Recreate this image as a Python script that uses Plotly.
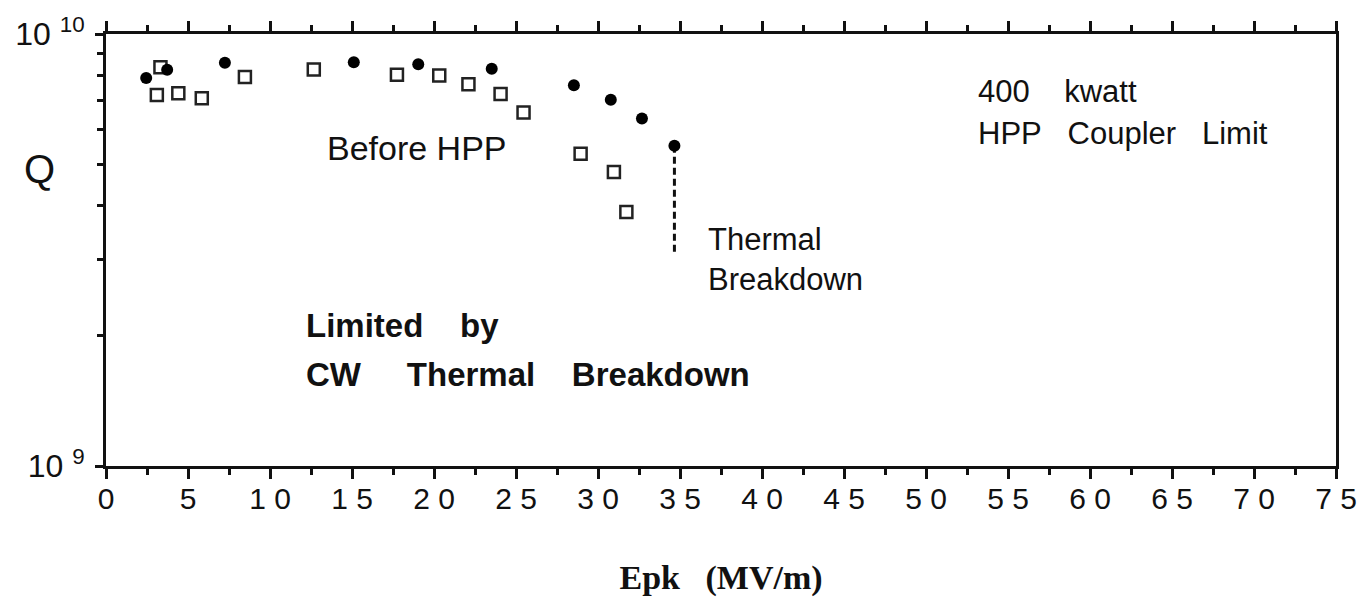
import plotly.graph_objects as go

# ---- data ----
after_epk = [2.45, 3.73, 7.25, 15.11, 19.04, 23.52, 28.53, 30.78, 32.68, 34.66]
after_q = [7.91e9, 8.27e9, 8.58e9, 8.60e9, 8.51e9, 8.31e9, 7.61e9, 7.04e9, 6.37e9, 5.51e9]

before_epk = [3.10, 3.32, 4.41, 5.84, 8.47, 12.67, 17.74, 20.32, 22.10, 24.06, 25.46, 28.94, 30.97, 31.73]
before_q = [7.22e9, 8.38e9, 7.29e9, 7.10e9, 7.95e9, 8.28e9, 8.05e9, 8.02e9, 7.65e9, 7.26e9, 6.58e9, 5.28e9, 4.79e9, 3.87e9]

breakdown_epk = [34.66, 34.66]
breakdown_q = [5.51e9, 3.09e9]

x_tick_vals = list(range(0, 80, 5))
x_tick_text = [" ".join(str(v)) for v in x_tick_vals]
y_tick_vals = [1e9, 1e10]
y_tick_text = ["10\u00a0<sup>9</sup>", "10\u00a0<sup>10</sup>"]
y_minor_vals = [2e9, 3e9, 4e9, 5e9, 6e9, 7e9, 8e9, 9e9]

SANS = "Liberation Sans, Arial, sans-serif"
SERIF = "Liberation Serif, Times New Roman, serif"
NB = "\u00a0"
INK = "#111"

fig = go.Figure()

fig.add_trace(go.Scatter(
    x=breakdown_epk, y=breakdown_q, mode="lines",
    line=dict(color=INK, width=3, dash="7px,4px"),
    showlegend=False, hoverinfo="skip"))

fig.add_trace(go.Scatter(
    x=before_epk, y=before_q, mode="markers",
    marker=dict(symbol="square", size=12, color="white",
                line=dict(color="#222", width=2.5)),
    showlegend=False))

fig.add_trace(go.Scatter(
    x=after_epk, y=after_q, mode="markers",
    marker=dict(symbol="circle", size=12, color="black",
                line=dict(color="black", width=0)),
    showlegend=False))

fig.update_layout(
    width=1369, height=603,
    margin=dict(l=106, r=28, t=28, b=136),
    paper_bgcolor="white", plot_bgcolor="white",
    font=dict(family=SANS, color=INK),
    showlegend=False,
    xaxis=dict(
        range=[0, 75], tickmode="array", tickvals=x_tick_vals, ticktext=x_tick_text,
        ticks="outside", ticklen=10, tickwidth=2.5, tickcolor=INK,
        minor=dict(dtick=2.5, tick0=0, ticks="outside", ticklen=6, tickwidth=2.5, tickcolor=INK),
        showline=True, linecolor=INK, linewidth=3, mirror="allticks",
        showgrid=False, zeroline=False,
        tickfont=dict(family=SANS, size=30, color=INK),
        ticklabelstandoff=-6,
        title=dict(text="<b>Epk" + NB * 3 + "(MV/m)</b>",
                   font=dict(family=SERIF, size=34, color=INK), standoff=52),
    ),
    yaxis=dict(
        type="log", range=[9, 10], tickmode="array", tickvals=y_tick_vals, ticktext=y_tick_text,
        ticks="outside", ticklen=8, tickwidth=2.5, tickcolor=INK,
        minor=dict(tickmode="array", tickvals=y_minor_vals, ticks="outside",
                   ticklen=6, tickwidth=2.5, tickcolor=INK),
        showline=True, linecolor=INK, linewidth=3, mirror=True,
        showgrid=False, zeroline=False,
        tickfont=dict(family=SANS, size=32, color=INK),
        ticklabelstandoff=4,
    ),
)

def note(text, x, y, size, xref="x", yref="y", bold=False, xanchor="left"):
    fig.add_annotation(
        text=("<b>" + text + "</b>") if bold else text,
        x=x, y=y, xref=xref, yref=yref, xanchor=xanchor, yanchor="middle",
        showarrow=False, align="left",
        font=dict(family=SANS, size=size, color=INK))

note("Before HPP", 13.35, 9.735, 34)
note("400" + NB * 4 + "kwatt", 53.05, 9.867, 31)
note("HPP" + NB * 3 + "Coupler" + NB * 3 + "Limit", 53.05, 9.769, 31)
note("Thermal", 36.6, 9.525, 31)
note("Breakdown", 36.6, 9.432, 31)
note("Limited" + NB * 4 + "by", 12.1, 9.325, 33, bold=True)
note("CW" + NB * 5 + "Thermal" + NB * 4 + "Breakdown", 12.1, 9.211, 33, bold=True)
note("Q", -0.054, 0.688, 40, xref="paper", yref="paper", xanchor="center")

fig.write_html("out.html")
